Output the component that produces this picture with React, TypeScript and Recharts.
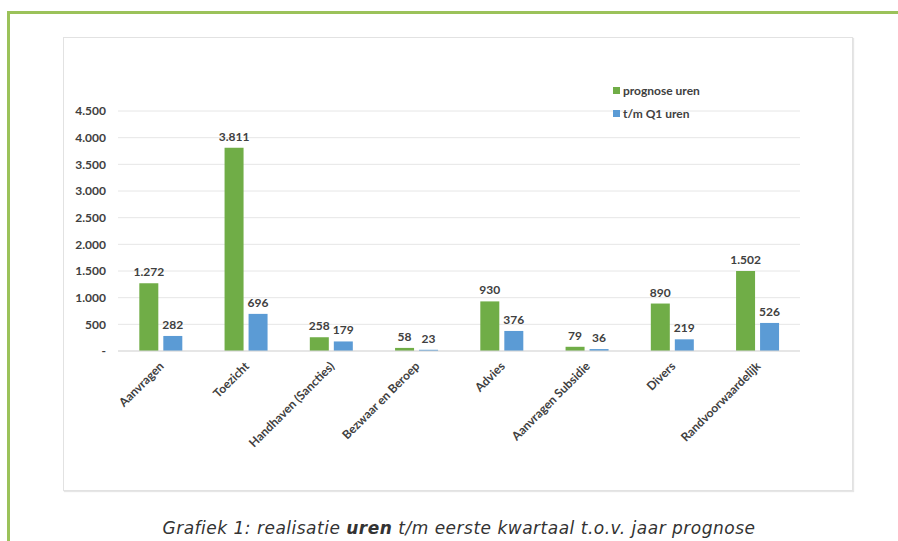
import React from 'react';
import { BarChart, Bar, XAxis, YAxis, CartesianGrid, LabelList } from 'recharts';

const categories = ['Aanvragen', 'Toezicht', 'Handhaven (Sancties)', 'Bezwaar en Beroep', 'Advies', 'Aanvragen Subsidie', 'Divers', 'Randvoorwaardelijk'];
const prognoseUren = [1272, 3811, 258, 58, 930, 79, 890, 1502];
const q1Uren = [282, 696, 179, 23, 376, 36, 219, 526];
const yTicks = [0, 500, 1000, 1500, 2000, 2500, 3000, 3500, 4000, 4500];
const seriesNames = ['prognose uren', 't/m Q1 uren'];
const seriesColors = ['#70AD47', '#5B9BD5'];

const data = categories.map((c, i) => ({ name: c, prognose: prognoseUren[i], q1: q1Uren[i] }));

const fmt = (v: number) => (v === 0 ? '-' : String(v).replace(/\B(?=(\d{3})+(?!\d))/g, '.'));

const FONT = 'Lato, "Open Sans", sans-serif';
const TEXT = '#404040';

const XTick = (props: any) => {
  const { x, y, payload } = props;
  const tx = x + 4;
  const ty = y + 8;
  return (
    <text x={tx} y={ty} transform={`rotate(-45, ${tx}, ${ty})`} textAnchor="end" fontSize={12} fontWeight={700} fill={TEXT} fontFamily={FONT}>
      {payload.value}
    </text>
  );
};

export default function App() {
  return (
    <div style={{ position: 'absolute', left: 0, top: 0, width: 898, height: 541, background: '#fff', overflow: 'hidden' }}>
      <div style={{ position: 'absolute', left: 7, top: 11, width: 900, height: 2.5, background: '#9BC25A' }} />
      <div style={{ position: 'absolute', left: 7, top: 11, width: 2.5, height: 540, background: '#9BC25A' }} />
      <div style={{ position: 'absolute', left: 63, top: 37, width: 788, height: 452, border: '1px solid #e2e2e2', boxShadow: '1px 1px 1px #e6e6e6', background: '#fff' }}>
        <BarChart width={788} height={452} data={data} margin={{ top: 73, right: 52, left: 0, bottom: 0 }} barCategoryGap="25%" barGap={5}>
          <CartesianGrid vertical={false} stroke="#e6e6e6" />
          <XAxis dataKey="name" interval={0} height={139} tick={<XTick />} tickLine={false} axisLine={{ stroke: '#d9d9d9' }} />
          <YAxis width={54} domain={[0, 4500]} ticks={yTicks} tickFormatter={fmt} axisLine={false} tickLine={false} tickSize={0} tickMargin={12} tick={{ fontSize: 12, fontWeight: 700, fill: TEXT, fontFamily: FONT }} />
          <Bar dataKey="prognose" name={seriesNames[0]} fill={seriesColors[0]} isAnimationActive={false}>
            <LabelList dataKey="prognose" position="top" offset={7} formatter={(v: any) => fmt(Number(v))} style={{ fontSize: 12, fontWeight: 700, fill: TEXT, fontFamily: FONT }} />
          </Bar>
          <Bar dataKey="q1" name={seriesNames[1]} fill={seriesColors[1]} isAnimationActive={false}>
            <LabelList dataKey="q1" position="top" offset={7} formatter={(v: any) => fmt(Number(v))} style={{ fontSize: 12, fontWeight: 700, fill: TEXT, fontFamily: FONT }} />
          </Bar>
        </BarChart>
        <div style={{ position: 'absolute', left: 549, top: 45, fontFamily: FONT, fontSize: 12, fontWeight: 700, color: TEXT }}>
          {seriesNames.map((n, i) => (
            <div key={n} style={{ display: 'flex', alignItems: 'center', height: 14, marginBottom: i === 0 ? 9 : 0 }}>
              <span style={{ display: 'inline-block', width: 7, height: 7, background: seriesColors[i], marginRight: 3 }} />
              {n}
            </div>
          ))}
        </div>
      </div>
      <div style={{ position: 'absolute', left: 0, width: 918, top: 518, textAlign: 'center', fontFamily: '"DejaVu Sans", Verdana, sans-serif', fontStyle: 'italic', fontSize: 17, letterSpacing: 0.5, color: '#333' }}>
        Grafiek 1: realisatie <b>uren</b> t/m eerste kwartaal t.o.v. jaar prognose
      </div>
    </div>
  );
}
